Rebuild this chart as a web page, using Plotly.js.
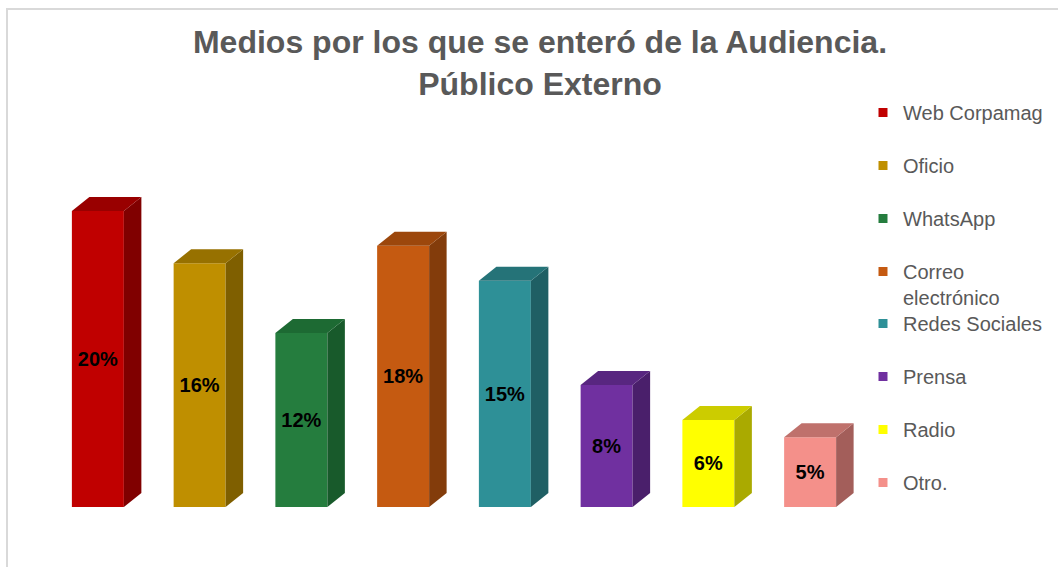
<!DOCTYPE html>
<html>
<head>
<meta charset="utf-8">
<script src="https://cdn.plot.ly/plotly-3.0.1.min.js"></script>
<style>html,body{margin:0;padding:0;background:#fff;}#chart{width:1058px;height:567px;}</style>
</head>
<body>
<div id="chart"></div>
<script>
// ---- data ----
const categories = ['Web Corpamag', 'Oficio', 'WhatsApp', 'Correo<br>electrónico', 'Redes Sociales', 'Prensa', 'Radio', 'Otro.'];
const values = [20.0, 16.47, 11.76, 17.65, 15.29, 8.24, 5.88, 4.71];
const valueLabels = ['20%', '16%', '12%', '18%', '15%', '8%', '6%', '5%'];

// ---- styles ----
const frontColors = ['#C00000', '#BF8F00', '#257D3E', '#C55A11', '#2E9097', '#7030A0', '#FFFF00', '#F4908A'];
const sideColors  = ['#800000', '#7F5F00', '#185A2B', '#833C0B', '#1F5F64', '#4A1F6B', '#AAAA00', '#A35E5A'];
const topColors   = ['#990000', '#977100', '#1D6A33', '#9C470C', '#257378', '#582680', '#CCCC00', '#BF716C'];
const barWidth = 0.511;   // in category units
const depthX = 0.172;     // 3D depth, category units
const depthY = 0.946;     // 3D depth, value units
const FONT = 'Liberation Sans, Arial, sans-serif';

const traces = [];
categories.forEach((cat, i) => {
  const v = values[i];
  const xl = i - barWidth / 2, xr = i + barWidth / 2;
  // front face
  traces.push({
    type: 'bar', x: [i], y: [v], width: barWidth, name: cat,
    legendgroup: 'g' + i, showlegend: false,
    marker: {color: frontColors[i], line: {width: 0}},
    text: [valueLabels[i]], textposition: 'inside', insidetextanchor: 'middle',
    textfont: {family: FONT, size: 20, color: '#000000', weight: 'bold'},
    constraintext: 'none', cliponaxis: false,
    hovertemplate: cat + ': ' + valueLabels[i] + '<extra></extra>'
  });
  // side face
  traces.push({
    type: 'scatter', mode: 'lines', fill: 'toself', legendgroup: 'g' + i, showlegend: false,
    x: [xr, xr + depthX, xr + depthX, xr, xr],
    y: [0, depthY, v + depthY, v, 0],
    fillcolor: sideColors[i], line: {width: 0}, hoverinfo: 'skip'
  });
  // top face
  traces.push({
    type: 'scatter', mode: 'lines', fill: 'toself', legendgroup: 'g' + i, showlegend: false,
    x: [xl, xl + depthX, xr + depthX, xr, xl],
    y: [v, v + depthY, v + depthY, v, v],
    fillcolor: topColors[i], line: {width: 0}, hoverinfo: 'skip'
  });
});
// legend entries (split over two legend boxes so spacing stays even)
categories.forEach((cat, i) => {
  traces.push({
    type: 'scatter', mode: 'markers', x: [null], y: [null], name: cat,
    legend: i < 4 ? 'legend' : 'legend2',
    legendgroup: 'g' + i, showlegend: true,
    marker: {symbol: 'square', size: 9, color: frontColors[i]}
  });
});

const legendBase = {
  xref: 'container', yref: 'container',
  x: 863 / 1058, xanchor: 'left', yanchor: 'top',
  font: {family: FONT, size: 20, color: '#595959'},
  tracegroupgap: 24, valign: 'top', itemclick: false, itemdoubleclick: false,
  bgcolor: 'rgba(0,0,0,0)', maxheight: 400
};

const layout = {
  width: 1058, height: 567,
  paper_bgcolor: '#ffffff', plot_bgcolor: '#ffffff',
  margin: {l: 47, r: 197, t: 137, b: 60, pad: 0},
  barmode: 'overlay',
  title: {
    text: '<b>Medios por los que se enteró de la Audiencia.<br>Público Externo</b>',
    font: {family: FONT, size: 32, color: '#595959'},
    x: 540 / 1058, xanchor: 'center', xref: 'container',
    y: 1 - 53 / 567, yanchor: 'top', yref: 'container'
  },
  xaxis: {range: [-0.5, 7.5], showgrid: false, zeroline: false, showticklabels: false, showline: false, fixedrange: true},
  yaxis: {range: [0, 25], showgrid: false, zeroline: false, showticklabels: false, showline: false, fixedrange: true},
  showlegend: true,
  legend: Object.assign({}, legendBase, {y: 1 - 93 / 567}),
  legend2: Object.assign({}, legendBase, {y: 1 - 304 / 567}),
  shapes: [{
    type: 'rect', xref: 'paper', yref: 'paper',
    x0: (7 - 47) / 814, x1: 1.5, y0: -0.5, y1: (507 - 9) / 370,
    line: {color: '#D9D9D9', width: 2}, fillcolor: 'rgba(0,0,0,0)', layer: 'below'
  }]
};

Plotly.newPlot('chart', traces, layout, {displayModeBar: false, staticPlot: true});
</script>
</body>
</html>
